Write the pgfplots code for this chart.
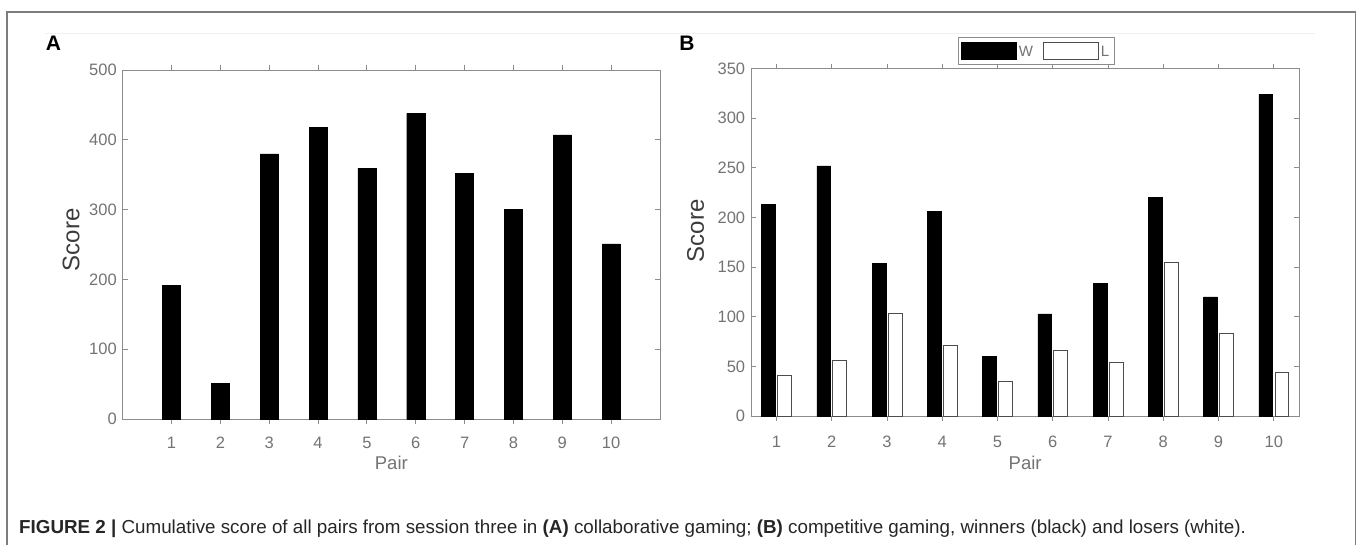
\documentclass[border=0pt]{standalone}
\usepackage{fontspec}
\setmainfont{Liberation Sans}
\usepackage{pgfplots}
\pgfplotsset{compat=1.18}
\definecolor{axgray}{RGB}{140,140,140}
\definecolor{tickgray}{RGB}{115,115,115}
\definecolor{framegray}{RGB}{125,125,125}
\definecolor{labgray}{RGB}{60,60,60}
\pgfplotsset{
  mystyle/.style={
    scale only axis,
    anchor=south west,
    axis line style={axgray, line width=0.9pt},
    tick style={axgray, line width=0.9pt},
    tick align=inside,
    major tick length=5pt,
    /pgf/number format/assume math mode=true,
    tick label style={font=\fontsize{16.5}{16.5}\selectfont, text=tickgray},
    yticklabel style={xshift=-2.4pt},
    xlabel style={font=\fontsize{18.5}{18.5}\selectfont, text=tickgray, anchor=center, at={(axis description cs:0.5,0)}},
    ylabel style={font=\fontsize{24}{24}\selectfont, text=labgray, anchor=center},
    xtick={1,2,...,10},
  }
}
\begin{document}
\begin{tikzpicture}
\useasboundingbox (0pt,0pt) rectangle (1357pt,544pt);
\draw[framegray, line width=1.3pt] (7pt,-2pt) -- (7pt,532pt) -- (1355.5pt,532pt) -- (1355.5pt,-2pt);
\draw[black!6, line width=0.8pt] (45pt,511pt) -- (1315pt,511pt);

% Panel A
\begin{axis}[mystyle,
  at={(122.7pt,125pt)}, width=537.3pt, height=349pt,
  xmin=0, xmax=11, ymin=0, ymax=500,
  ytick={0,100,...,500},
  xticklabel style={anchor=center, yshift=-19pt},
  xlabel={Pair}, xlabel style={yshift=-44pt},
  ylabel={Score}, ylabel style={at={(axis description cs:0,0.513)}, yshift=51.7pt},
  ybar, bar width=0.37,
]
\addplot[fill=black, draw=black] coordinates {
 (1,191) (2,51) (3,380) (4,418) (5,359) (6,438) (7,352) (8,300) (9,407) (10,251)};
\end{axis}

% Panel B
\begin{axis}[mystyle,
  at={(751.1pt,128pt)}, width=548.1pt, height=347.3pt,
  xmin=0.54, xmax=10.46, ymin=0, ymax=350,
  ytick={0,50,...,350},
  xticklabel style={anchor=center, yshift=-21.2pt},
  xlabel={Pair}, xlabel style={yshift=-46.5pt},
  ylabel={Score}, ylabel style={at={(axis description cs:0,0.533)}, yshift=55.6pt},
  ybar, bar width=0.25,
  legend columns=2,
  legend style={at={(0.52,1)}, anchor=south, yshift=4pt, draw=axgray, line width=0.9pt,
    font=\fontsize{15}{15}\selectfont, text=tickgray, inner xsep=3pt, inner ysep=4pt,
    /tikz/every even column/.append style={column sep=8pt}},
]
\addplot[fill=black, draw=black, bar shift=-0.145,
  legend image code/.code={\fill[black] (0pt,-7pt) rectangle (55pt,10pt);}]
 coordinates {
 (1,213) (2,252) (3,154) (4,206) (5,60) (6,103) (7,134) (8,220) (9,120) (10,324)};
\addlegendentry{W}
\addplot[fill=white, draw=black!70, line width=0.8pt, bar shift=0.145,
  legend image code/.code={\draw[black!70, fill=white, line width=0.8pt] (0pt,-7pt) rectangle (55pt,10pt);}]
 coordinates {
 (1,41) (2,56) (3,103) (4,71) (5,35) (6,66) (7,54) (8,155) (9,83) (10,44)};
\addlegendentry{L}
\end{axis}

\node[font=\bfseries\fontsize{21}{21}\selectfont] at (53.5pt,501pt) {A};
\node[font=\bfseries\fontsize{21}{21}\selectfont] at (687pt,501pt) {B};

\node[anchor=base west, inner sep=0, font=\fontsize{18.8}{20}\selectfont, text=black!85] at (19pt,11pt)
 {\textbf{FIGURE 2 |} Cumulative score of all pairs from session three in \textbf{(A)} collaborative gaming; \textbf{(B)} competitive gaming, winners (black) and losers (white).};
\end{tikzpicture}
\end{document}
